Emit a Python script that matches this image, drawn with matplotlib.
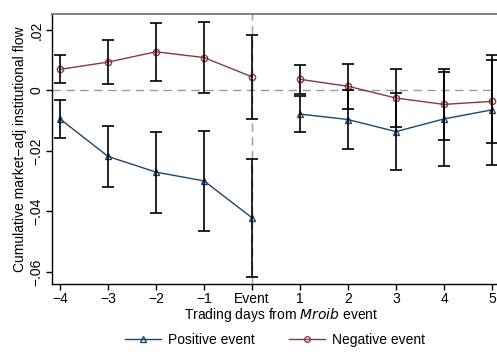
import matplotlib
matplotlib.use('Agg')
import matplotlib.pyplot as plt
from matplotlib.lines import Line2D

plt.rcParams['font.family'] = ['Liberation Sans', 'DejaVu Sans']

# days relative to the event, split into pre (-4..0) and post (1..5) windows
days_pre = [-4, -3, -2, -1, 0]
days_post = [1, 2, 3, 4, 5]

# positive event (blue triangles)
pos_pre = [-0.0094, -0.0218, -0.0270, -0.0299, -0.0421]
pos_pre_err = [0.0063, 0.0100, 0.0134, 0.0165, 0.0195]
pos_post = [-0.0078, -0.0096, -0.0136, -0.0094, -0.0064]
pos_post_err = [0.0060, 0.0097, 0.0128, 0.0155, 0.0182]

# negative event (red circles)
neg_pre = [0.0070, 0.0094, 0.0128, 0.0109, 0.0045]
neg_pre_err = [0.0046, 0.0072, 0.0096, 0.0118, 0.0138]
neg_post = [0.0037, 0.0014, -0.0025, -0.0046, -0.0036]
neg_post_err = [0.0047, 0.0075, 0.0097, 0.0117, 0.0138]

xtick_pos = [-4, -3, -2, -1, 0, 1, 2, 3, 4, 5]
xtick_labels = ['\u22124', '\u22123', '\u22122', '\u22121', 'Event', '1', '2', '3', '4', '5']
ytick_pos = [0.02, 0, -0.02, -0.04, -0.06]
ytick_labels = ['.02', '0', '\u2212.02', '\u2212.04', '\u2212.06']

blue = '#1a476f'
red = '#90353b'

fig = plt.figure(figsize=(4.97, 3.54), dpi=100)
ax = fig.add_axes([52 / 497, 70 / 354, 458 / 497, 270 / 354])

# reference lines
ax.axhline(0, color='#999999', lw=1, ls=(0, (6, 4)), zorder=1)
ax.axvline(0, color='#999999', lw=1, ls=(0, (6, 4)), zorder=1)

for x, y, e in [(days_pre, pos_pre, pos_pre_err), (days_post, pos_post, pos_post_err)]:
    ax.plot(x, y, color=blue, lw=1, marker='^', ms=4, mfc='none', mec=blue, mew=1, zorder=2)
    ax.errorbar(x, y, yerr=e, fmt='none', ecolor='black', elinewidth=1.2, capsize=4, capthick=1.2, zorder=3)

for x, y, e in [(days_pre, neg_pre, neg_pre_err), (days_post, neg_post, neg_post_err)]:
    ax.plot(x, y, color=red, lw=1, marker='o', ms=4.5, mfc='none', mec=red, mew=1, zorder=2)
    ax.errorbar(x, y, yerr=e, fmt='none', ecolor='black', elinewidth=1.2, capsize=4, capthick=1.2, zorder=3)

ax.set_xlim(-4.167, 5.375)
ax.set_ylim(-0.064, 0.0253)
ax.set_xticks(xtick_pos)
ax.set_xticklabels(xtick_labels, fontsize=10)
ax.set_yticks(ytick_pos)
ax.set_yticklabels(ytick_labels, fontsize=10, rotation=90, va='center')
ax.tick_params(direction='out', length=4, width=1, pad=2)

ax.spines['top'].set_color('#777777')
ax.spines['top'].set_linewidth(1.3)
ax.spines['right'].set_visible(False)
for s in ['left', 'bottom']:
    ax.spines[s].set_linewidth(1)

ax.set_xlabel('Trading days from $\\it{Mroib}$ event', fontsize=10, labelpad=0)
ax.set_ylabel('Cumulative market\u2212adj institutional flow', fontsize=10, labelpad=2)

handles = [
    Line2D([], [], color=blue, lw=1, marker='^', ms=4, mfc='none', mec=blue),
    Line2D([], [], color=red, lw=1, marker='o', ms=4, mfc='none', mec=red),
]
fig.legend(handles, ['Positive event', 'Negative event'], loc='center',
           bbox_to_anchor=(275 / 497, 14 / 354), ncol=2, frameon=False, fontsize=10,
           handlelength=2.6, columnspacing=2.5, handletextpad=0.5)

fig.savefig('out.png', dpi=100)
